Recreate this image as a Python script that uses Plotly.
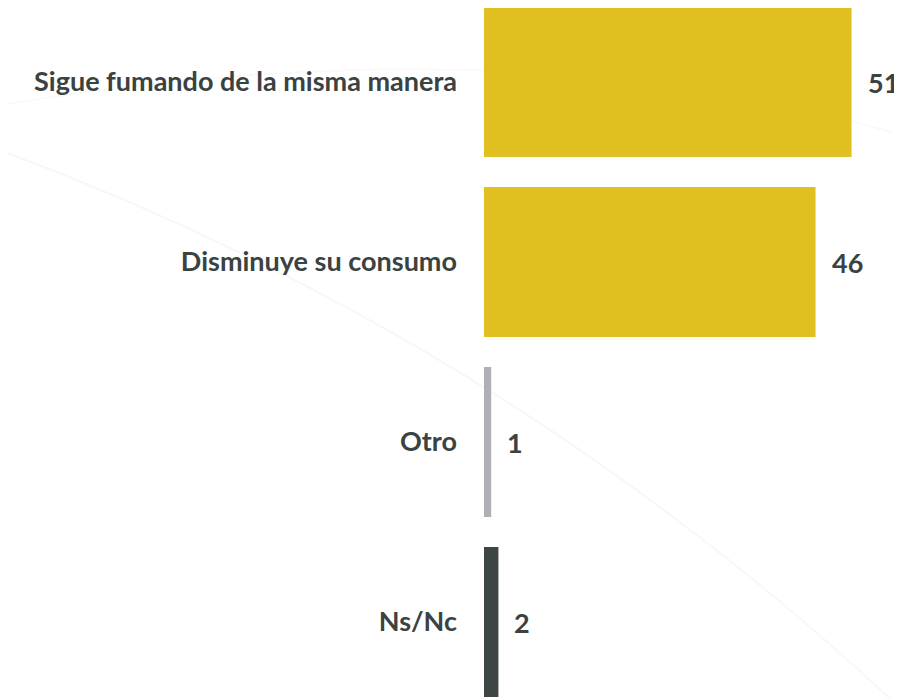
import plotly.graph_objects as go

categories = ["Sigue fumando de la misma manera", "Disminuye su consumo", "Otro", "Ns/Nc"]
values = [51, 46, 1, 2]
colors = ["#DFC020", "#DFC020", "#B1AFB6", "#3D4644"]

pos = list(range(len(categories)))

fig = go.Figure()
fig.add_trace(go.Bar(
    x=values, y=pos, orientation="h",
    marker=dict(color=colors, line=dict(width=0)),
    width=0.833, hoverinfo="skip", showlegend=False,
))

for p, v in zip(pos, values):
    fig.add_annotation(x=v, y=p, text=f"<b>{v}</b>", showarrow=False,
                       xanchor="left", xshift=14, yanchor="middle",
                       font=dict(size=27, color="#3A4242", family="Lato"))

# faint decorative background curves
fig.add_shape(type="path", xref="paper", yref="paper", layer="below",
              path="M -1.158 0.794 Q 0.06 0.519 1.0 -0.017",
              line=dict(color="rgba(0,0,0,0.03)", width=2))
fig.add_shape(type="path", xref="paper", yref="paper", layer="below",
              path="M -1.158 0.859 Q 0.06 0.982 1.0 0.816",
              line=dict(color="rgba(0,0,0,0.025)", width=2))

fig.update_layout(
    width=894, height=690,
    margin=dict(l=476, r=0, t=0, b=0),
    paper_bgcolor="white", plot_bgcolor="rgba(0,0,0,0)",
    xaxis=dict(range=[0, 58], visible=False, fixedrange=True),
    yaxis=dict(range=[3.4222, -0.4111], tickvals=pos,
               ticktext=[f"<b>{c}</b>" for c in categories],
               showgrid=False, zeroline=False, showline=False, ticks="",
               ticklabelstandoff=26,
               tickfont=dict(size=27, color="#3A4242", family="Lato")),
)

fig.write_html("out.html")
